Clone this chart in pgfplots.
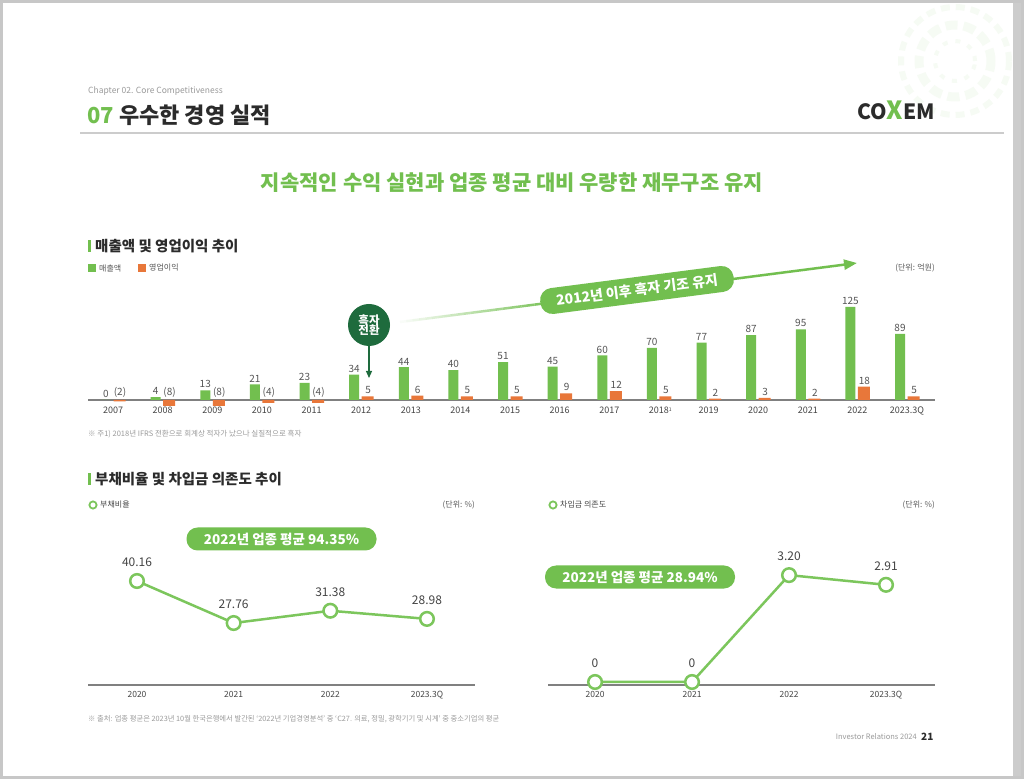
\documentclass[border=0pt]{standalone}
\usepackage{fontspec}
\setmainfont{Noto Sans CJK KR}
\usepackage{pgfplots}
\usepackage{pgfplotstable}
\pgfplotsset{compat=1.18}
\usetikzlibrary{arrows.meta,calc}
\definecolor{cgreen}{HTML}{72BF4F}
\definecolor{cline}{HTML}{7CC65C}
\definecolor{corange}{HTML}{E8773A}
\definecolor{cdark}{HTML}{1E6B3D}
\definecolor{ctext}{HTML}{2B2B2B}
\definecolor{cgray}{HTML}{9A9A9A}
\definecolor{ctick}{HTML}{444444}
\definecolor{cval}{HTML}{555555}
\newcommand{\fs}[1]{\fontsize{#1pt}{#1pt}\selectfont}

\pgfplotstableread{
x rev op lab ly
0 0 -2 (2) 0
1 4 -8 (8) 0
2 13 -8 (8) 0
3 21 -4 (4) 0
4 23 -4 (4) 0
5 34 5 5 5
6 44 6 6 6
7 40 5 5 5
8 51 5 5 5
9 45 9 9 9
10 60 12 12 12
11 70 5 5 5
12 77 2 2 2
13 87 3 3 3
14 95 2 2 2
15 125 18 18 18
16 89 5 5 5
}\bartab

\pgfplotstableread{
x y lab
0 40.16 40.16
1 27.76 27.76
2 31.38 31.38
3 28.98 28.98
}\debttab

\pgfplotstableread{
x y lab
0 0 0
1 0 0
2 3.20 3.20
3 2.91 2.91
}\borrowtab

\begin{document}
\begin{tikzpicture}[x=1pt,y=1pt]
\useasboundingbox (0,0) rectangle (1024,779);
\fill[white] (0,0) rectangle (1024,779);
\fill[black!20] (1013,0) rectangle (1024,779);
\draw[black!22, line width=3pt] (1.5,1.5) rectangle (1022.5,777.5);

% decoration top-right
\begin{scope}[opacity=0.06]
\draw[cgreen, line width=9pt, dash pattern=on 12pt off 6pt] (955,718) circle (36);
\draw[cgreen, line width=6pt, dash pattern=on 9pt off 6pt] (955,718) circle (54);
\draw[cgreen, line width=4pt, dash pattern=on 5pt off 8pt] (955,718) circle (20);
\end{scope}

% header
\node[anchor=west, inner sep=0, text=cgray, font=\fs{8.5}] at (88,688) {Chapter 02. Core Competitiveness};
\node[anchor=west, inner sep=0, text=ctext, font=\bfseries\fs{22}] at (87,664) {{\color{cgreen}07} 우수한 경영 실적};
\node[anchor=center, inner sep=0, font=\bfseries\fs{21}] at (896,669) {\color{ctext}CO{\color{cgreen}\fs{25}X}EM};
\draw[black!20, line width=2pt] (80,646) -- (1004,646);

% headline
\node[anchor=center, inner sep=0, text=cgreen, font=\bfseries\fs{21}] at (512,596) {지속적인 수익 실현과 업종 평균 대비 우량한 재무구조 유지};

% section 1
\fill[cgreen] (88,527) rectangle (91,539);
\node[anchor=west, inner sep=0, text=ctext, font=\bfseries\fs{14.5}] at (95,533) {매출액 및 영업이익 추이};
\fill[cgreen] (88,507) rectangle (96,515);
\node[anchor=west, inner sep=0, text=cval, font=\fs{8}] at (99,511) {매출액};
\fill[corange] (138,507) rectangle (146,515);
\node[anchor=west, inner sep=0, text=cval, font=\fs{8}] at (149,511) {영업이익};
\node[anchor=east, inner sep=0, text=cval, font=\fs{8}] at (935,511) {(단위: 억원)};

\begin{axis}[at={(88pt,373.05pt)}, anchor=south west, scale only axis,
  width=847pt, height=102.7pt, xmin=-0.504, xmax=16.564, ymin=-8, ymax=130,
  axis x line*=middle, axis y line=none, clip=false,
  xtick={0,...,16},
  xticklabels={2007,2008,2009,2010,2011,2012,2013,2014,2015,2016,2017,2018\rlap{\raisebox{2.5pt}{\fs{5}1}},2019,2020,2021,2022,2023.3Q},
  major tick length=0pt,
  x axis line style={draw=black!50, line width=1.3pt},
  xticklabel style={font=\fs{9}, text=ctick, inner sep=0pt, anchor=north, yshift=-7pt, text height=6.5pt, text depth=0pt},
  nodes near coords style={font=\fs{10}, text=cval, inner sep=2pt, anchor=south}]
\addplot[ybar, bar width=10pt, bar shift=-7pt, fill=cgreen, draw=none,
  nodes near coords, point meta=explicit symbolic,
  nodes near coords style={xshift=-7pt}] table[x=x,y=rev,meta=rev]{\bartab};
\addplot[ybar, bar width=12pt, bar shift=6.5pt, fill=corange, draw=none] table[x=x,y=op]{\bartab};
\addplot[draw=none, mark=none, nodes near coords, point meta=explicit symbolic,
  nodes near coords style={xshift=7pt}] table[x=x,y=ly,meta=lab]{\bartab};
\end{axis}

% turnaround circle
\draw[cdark, line width=1.2pt, -{Triangle[length=7pt,width=6pt]}] (369,434) -- (369,401);
\fill[cdark] (369,454) circle (21);
\node[align=center, text=white, font=\bfseries\fs{11.5}, inner sep=0] at (369,454) {흑자\\[-1pt]전환};

% big trend arrow
\coordinate (A) at (400,457);
\coordinate (B) at (857,516);
\foreach \i in {0,...,24}{
  \pgfmathsetmacro{\op}{(\i+1)/25}
  \draw[cgreen, line width=2.5pt, opacity=\op] ($(A)!{\i*0.014}!(B)$) -- ($(A)!{(\i+1)*0.014}!(B)$);
}
\draw[cgreen, line width=2.5pt, -{Triangle[length=13pt,width=10pt]}] ($(A)!0.35!(B)$) -- (B);
\node[rotate=7.4, fill=cgreen, rounded corners=12pt, minimum width=195pt, minimum height=26pt, text=white, font=\bfseries\fs{14}, inner sep=0] at (637,489) {2012년 이후 흑자 기조 유지};

\node[anchor=west, inner sep=0, text=cgray, font=\fs{7.5}] at (88,345) {※ 주1) 2018년 IFRS 전환으로 회계상 적자가 났으나 실질적으로 흑자};

% section 2
\fill[cgreen] (88,294) rectangle (91,306);
\node[anchor=west, inner sep=0, text=ctext, font=\bfseries\fs{14.5}] at (95,300) {부채비율 및 차입금 의존도 추이};

\draw[cline, line width=1.8pt] (93,274) circle (3.6);
\node[anchor=west, inner sep=0, text=ctick, font=\fs{8}] at (100,274) {부채비율};
\node[anchor=east, inner sep=0, text=cval, font=\fs{8}] at (475,274) {(단위: \%)};
\draw[cline, line width=1.8pt] (553,274) circle (3.6);
\node[anchor=west, inner sep=0, text=ctick, font=\fs{8}] at (560,274) {차입금 의존도};
\node[anchor=east, inner sep=0, text=cval, font=\fs{8}] at (935,274) {(단위: \%)};

\pgfplotsset{lineax/.style={anchor=south west, scale only axis, width=387pt,
  axis x line*=bottom, axis y line=none, clip=false,
  xtick={0,1,2,3}, xticklabels={2020,2021,2022,2023.3Q}, major tick length=0pt,
  x axis line style={draw=black!50, line width=1.2pt},
  xticklabel style={font=\fs{8.5}, text=ctick, inner sep=0pt, anchor=north, yshift=-6pt, text height=6.3pt, text depth=0pt},
  nodes near coords style={font=\fs{12}, text=ctick, inner sep=2pt, anchor=south, yshift=11pt}},
  lineplot/.style={cline, line width=2.5pt, mark=*, mark size=6.8pt,
  mark options={fill=white, draw=cline, line width=2.5pt},
  nodes near coords, point meta=explicit symbolic}}

\begin{axis}[lineax, at={(88pt,94pt)}, height=120.4pt, xmin=-0.507, xmax=3.497, ymin=9.47, ymax=45]
\addplot[lineplot] table[x=x,y=y,meta=lab]{\debttab};
\end{axis}

\begin{axis}[lineax, at={(548pt,94pt)}, height=119.9pt, xmin=-0.485, xmax=3.505, ymin=-0.09, ymax=3.5]
\addplot[lineplot] table[x=x,y=y,meta=lab]{\borrowtab};
\end{axis}

\node[fill=cgreen, rounded corners=11pt, minimum width=190pt, minimum height=23pt, text=white, font=\bfseries\fs{13.5}, inner sep=0] at (281.5,240) {2022년 업종 평균 94.35\%};
\node[fill=cgreen, rounded corners=11pt, minimum width=190pt, minimum height=23pt, text=white, font=\bfseries\fs{13.5}, inner sep=0] at (640,202) {2022년 업종 평균 28.94\%};

\node[anchor=west, inner sep=0, text=cgray, font=\fs{7.3}] at (88,60) {※ 출처: 업종 평균은 2023년 10월 한국은행에서 발간된 ‘2022년 기업경영분석’ 중 ‘C27. 의료, 정밀, 광학기기 및 시계’ 중 중소기업의 평균};
\node[anchor=east, inner sep=0, text=cgray, font=\fs{7.5}] at (917,42) {Investor Relations 2024};
\node[anchor=west, inner sep=0, text=ctext, font=\bfseries\fs{10}] at (921,42.5) {21};
\end{tikzpicture}
\end{document}
